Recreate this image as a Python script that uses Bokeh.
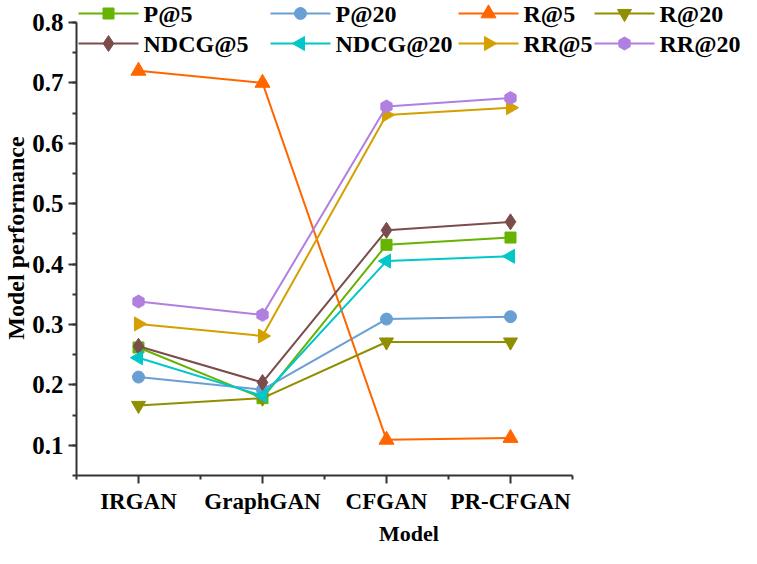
import math
from bokeh.plotting import figure
from bokeh.models import FixedTicker, ColumnDataSource
from bokeh.core.properties import value
from bokeh.embed import file_html
from bokeh.resources import INLINE

models = ["IRGAN", "GraphGAN", "CFGAN", "PR-CFGAN"]
p_at_5 = [0.262, 0.178, 0.432, 0.444]
p_at_20 = [0.213, 0.192, 0.309, 0.313]
r_at_5 = [0.720, 0.700, 0.109, 0.112]
r_at_20 = [0.166, 0.178, 0.271, 0.271]
ndcg_at_5 = [0.264, 0.204, 0.456, 0.470]
ndcg_at_20 = [0.245, 0.182, 0.405, 0.413]
rr_at_5 = [0.301, 0.281, 0.647, 0.659]
rr_at_20 = [0.338, 0.316, 0.661, 0.675]
y_ticks = [0.1, 0.2, 0.3, 0.4, 0.5, 0.6, 0.7, 0.8]

series = [
    ("P@5", p_at_5, "#66B300", "square", 11, 0.0),
    ("P@20", p_at_20, "#6A9FD4", "circle", 12, 0.0),
    ("R@5", r_at_5, "#FF6600", "triangle", 15, 0.0),
    ("R@20", r_at_20, "#8F8F00", "inverted_triangle", 14, 0.0),
    ("NDCG@5", ndcg_at_5, "#7B4C4C", "diamond", 16, 0.0),
    ("NDCG@20", ndcg_at_20, "#00C8C8", "triangle", 14, math.pi / 2),
    ("RR@5", rr_at_5, "#D4A000", "triangle", 14, -math.pi / 2),
    ("RR@20", rr_at_20, "#B07FE0", "hex", 13, math.pi / 2),
]

FONT = "Liberation Serif"
x_pos = list(range(1, len(models) + 1))

W, H = 741, 548
BL, BB = 76, 73                     # left / bottom borders (px)
XR = (0.5, 5.863)                   # frame reaches the right edge (legend lives inside)
YR = (0.05, 0.8365)                 # frame reaches the top edge

p = figure(width=W, height=H, output_backend="svg", toolbar_location=None,
           x_range=XR, y_range=YR,
           min_border_left=BL, min_border_right=0, min_border_top=0, min_border_bottom=BB)
p.outline_line_color = None
p.grid.grid_line_color = None
p.background_fill_color = "white"
p.border_fill_color = "white"

# data
for name, vals, color, marker, size, ang in series:
    src = ColumnDataSource(dict(x=x_pos, y=vals))
    p.line("x", "y", source=src, line_color=color, line_width=2)
    p.scatter("x", "y", source=src, marker=marker, size=size, angle=ang,
              fill_color=color, line_color=color)

# axes
xa = p.xaxis[0]
xa.ticker = FixedTicker(ticks=x_pos, minor_ticks=[i + 0.5 for i in range(0, len(models) + 1)])
xa.major_label_overrides = {i + 1: m for i, m in enumerate(models)}
xa.bounds = (0.5, len(models) + 0.5)
ya = p.yaxis[0]
ya.ticker = FixedTicker(ticks=y_ticks, minor_ticks=[round(0.05 + 0.05 * i, 2) for i in range(16)])
ya.bounds = (0.05, 0.8)

for ax in (xa, ya):
    ax.axis_line_width = 2
    ax.axis_line_color = "#333333"
    ax.major_tick_line_width = 2
    ax.major_tick_line_color = "#333333"
    ax.minor_tick_line_width = 2
    ax.minor_tick_line_color = "#333333"
    ax.major_tick_out = 8
    ax.major_tick_in = 0
    ax.minor_tick_out = 4
    ax.minor_tick_in = 0
    ax.major_label_text_font = FONT
    ax.major_label_text_font_style = "bold"
    ax.major_label_text_color = "black"
    ax.axis_label_text_font = FONT
    ax.axis_label_text_font_style = "bold"
    ax.axis_label_text_color = "black"

xa.axis_label = "Model"
xa.major_label_text_font_size = "23px"
xa.axis_label_text_font_size = "22px"
xa.major_label_standoff = 5
xa.axis_label_standoff = 4
ya.axis_label = "Model performance"
ya.major_label_text_font_size = "25px"
ya.axis_label_text_font_size = "24px"
ya.major_label_standoff = 5
ya.axis_label_standoff = 0

# legend (drawn by hand so rotated triangles keep their direction): 4 columns x 2 rows
ppx = (W - BL) / (XR[1] - XR[0])
ppy = (H - BB) / (YR[1] - YR[0])
def dx(px):
    return XR[0] + (px - BL) / ppx
def dy(py):
    return YR[1] - py / ppy

row_py = [13, 43]
col_px = [78, 270, 458, 594]
line_len = 60
for i, (name, vals, color, marker, size, ang) in enumerate(series):
    c, r = i % 4, i // 4
    x0 = col_px[c]
    yy = dy(row_py[r])
    p.segment(x0=[dx(x0)], y0=[yy], x1=[dx(x0 + line_len)], y1=[yy],
              line_color=color, line_width=2)
    p.scatter(x=[dx(x0 + line_len / 2)], y=[yy], marker=marker, size=size, angle=ang,
              fill_color=color, line_color=color)
    p.text(x=[dx(x0 + line_len + 5)], y=[yy], text=[name], text_font=value(FONT),
           text_font_style="bold", text_font_size="24px", text_color="black",
           text_baseline="middle", text_align="left")

open("out.html", "w").write(file_html(p, INLINE))
